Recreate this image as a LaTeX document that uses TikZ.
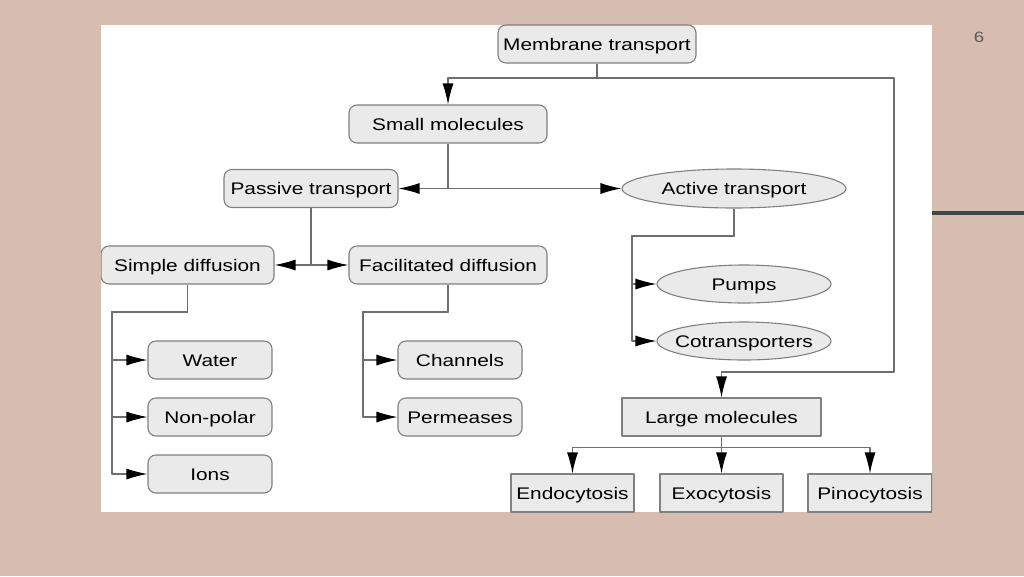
\documentclass[tikz,border=0pt]{standalone}
\usepackage{fontspec}
\setmainfont{Liberation Sans}[FakeStretch=1.24]
\usetikzlibrary{shapes.geometric,arrows.meta}

\definecolor{slidebg}{RGB}{215,188,176}
\definecolor{bardark}{RGB}{62,72,72}
\definecolor{boxfill}{RGB}{234,234,234}
\definecolor{boxline}{RGB}{128,128,128}
\definecolor{linkgray}{RGB}{110,110,110}

\tikzset{
  rbox/.style={draw=boxline, fill=boxfill, rounded corners=8pt, line width=1.1pt,
    inner sep=0pt, minimum height=38pt, text height=12pt, text depth=0pt,
    text=black, font=\fontsize{16.8}{18}\selectfont},
  sbox/.style={rbox, sharp corners},
  oval/.style={rbox, ellipse, inner xsep=-10pt},
  link/.style={draw=linkgray, line width=1.2pt},
  toarrow/.style={-{Latex[length=21pt,width=11pt,color=black]}}
}

\begin{document}
\begin{tikzpicture}[x=1pt, y=-1pt, line join=round]
  \useasboundingbox (0,0) rectangle (1024,576);
  % slide background, white panel, side bar, page number
  \fill[slidebg] (0,0) rectangle (1024,576);
  \fill[white] (101,25) rectangle (932,512);
  \fill[bardark] (932,211) rectangle (1024,215);
  \node[text=black!65, font=\fontsize{15}{16}\selectfont] (pg) at (979,37) {6};

  \begin{scope}
    \clip (101,20) rectangle (932,512);

    % upper part
    \node[rbox, minimum width=198pt] (mt) at (597,44) {Membrane transport};
    \node[rbox, minimum width=198pt] (sm) at (448,124) {Small molecules};
    \node[rbox, minimum width=174pt] (pt) at (311,188.5) {Passive transport};
    \node[oval, minimum width=224pt, minimum height=39pt] (at) at (734,188.5) {Active transport};

    % passive branch
    \node[rbox, minimum width=173pt] (sd) at (187.5,265) {Simple diffusion};
    \node[rbox, minimum width=198pt] (fd) at (448,265) {Facilitated diffusion};
    \node[rbox, minimum width=124pt] (wa) at (210,360) {Water};
    \node[rbox, minimum width=124pt] (np) at (210,417) {Non-polar};
    \node[rbox, minimum width=124pt] (io) at (210,474) {Ions};
    \node[rbox, minimum width=124pt] (ch) at (460,360) {Channels};
    \node[rbox, minimum width=124pt] (pe) at (460,417) {Permeases};

    % active branch
    \node[oval, minimum width=174pt] (pu) at (744,284) {Pumps};
    \node[oval, minimum width=174pt] (co) at (744,341) {Cotransporters};

    % large molecules
    \node[sbox, minimum width=199pt] (lm) at (721.5,417) {Large molecules};
    \node[sbox, minimum width=123pt] (en) at (572.5,493) {Endocytosis};
    \node[sbox, minimum width=123pt] (ex) at (721.5,493) {Exocytosis};
    \node[sbox, minimum width=124pt] (pi) at (870,493) {Pinocytosis};

    % junction points
    \coordinate (j1) at (597,78);
    \coordinate (jr) at (894,372);
    \coordinate (j2) at (sm.south |- pt.east);
    \coordinate (j3) at (pt.south |- sd.east);
    \coordinate (sdl) at (112,312);
    \coordinate (fdl) at (363,312);
    \coordinate (atl) at (632,236);

    % connectors
    \draw[link] (mt.south) -- (j1);
    \draw[link,toarrow] (j1) -| (sm.north);
    \draw[link,toarrow] (j1) -| (jr) -| (lm.north);
    \draw[link] (sm.south) -- (j2);
    \draw[link,toarrow] (j2) -- (pt.east);
    \draw[link,toarrow] (j2) -- (at.west);
    \draw[link] (pt.south) -- (j3);
    \draw[link,toarrow] (j3) -- (sd.east);
    \draw[link,toarrow] (j3) -- (fd.west);
    \foreach \t in {wa,np,io}
      \draw[link,toarrow] (sd.south) |- (sdl) |- (\t.west);
    \foreach \t in {ch,pe}
      \draw[link,toarrow] (fd.south) |- (fdl) |- (\t.west);
    \foreach \t in {pu,co}
      \draw[link,toarrow] (at.south) |- (atl) |- (\t.west);
    \foreach \t in {en,ex,pi}
      \draw[link,toarrow] (lm.south) -- ++(0,11) -| (\t.north);
  \end{scope}
\end{tikzpicture}
\end{document}
